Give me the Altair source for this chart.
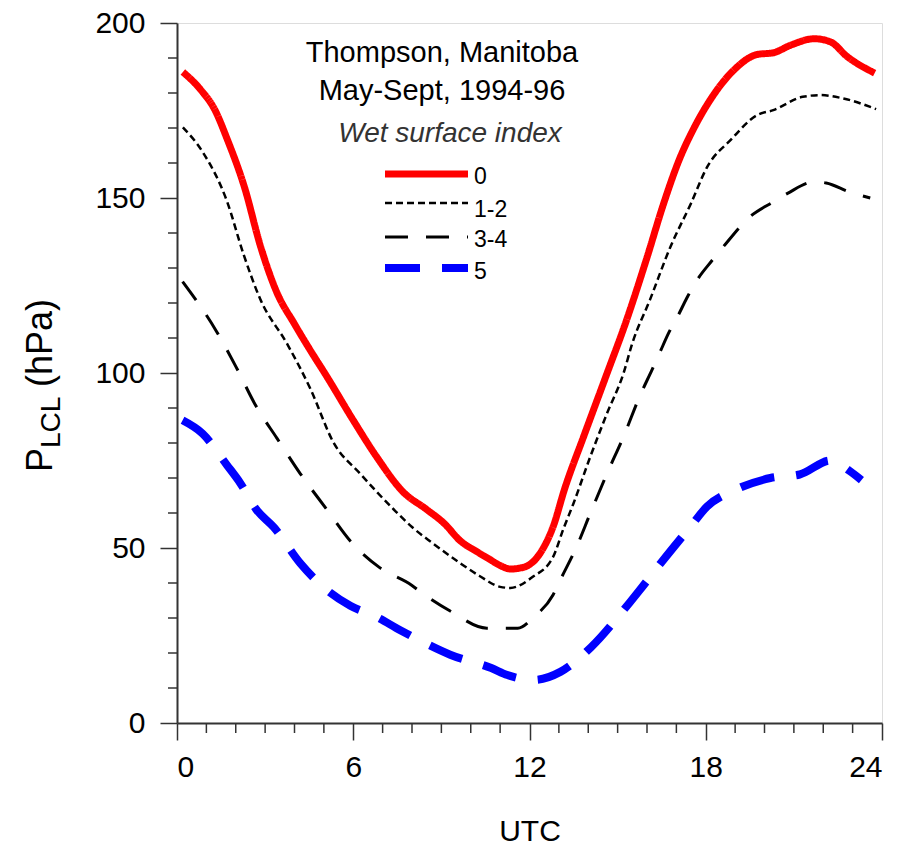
import altair as alt
import pandas as pd

# ---- data ----
h_0 = [0.2, 0.8, 1.3, 1.7, 2.3, 2.85, 3.4, 4.0, 4.5, 5.1, 6.0, 6.8, 7.7, 8.5, 9.1, 9.65,
       10.2, 10.6, 11.0, 11.35, 11.8, 12.4, 12.8, 13.2, 13.85, 14.6, 15.3, 16.0, 16.55,
       17.1, 17.6, 18.15, 18.95, 19.75, 20.3, 20.9, 21.7, 22.25, 22.8, 23.75]
p_0 = [186, 181, 175, 167, 153, 136, 123, 114, 107, 99, 86.5, 76, 66, 61, 57, 52,
       49, 47, 45, 44, 44.5, 49, 56, 67, 82, 99, 115, 133, 148,
       161, 170, 178, 186.5, 191, 191.5, 193.7, 195.5, 194.6, 190.5, 185.7]

h_12 = [0.2, 0.87, 1.7, 2.27, 2.84, 3.75, 4.54, 5.33, 6.24, 7.38, 8.0, 8.7, 9.65, 10.3,
        11.0, 11.35, 12.1, 12.8, 13.16, 13.5, 14.07, 14.64, 15.2, 15.5, 16.1, 16.8, 17.5,
        18.05, 18.85, 19.75, 20.3, 21.3, 21.9, 22.6, 23.8]
p_12 = [170.2, 163.2, 149.1, 133.8, 121, 108.3, 95.5, 80.1, 71.2, 61, 56, 51.4, 45.6, 42,
        38.9, 38.6, 41.7, 47.4, 55.6, 62.8, 76.1, 88.5, 99.9, 108.5, 120.9, 136.1, 148.5,
        158.9, 166.6, 173.7, 175.1, 178.9, 179.4, 178.6, 175.4]

h_34 = [0.19, 1.33, 2.0, 2.7, 3.4, 4.2, 5.1, 5.9, 6.9, 8.0, 8.3, 9.3, 10.55, 11.6, 12.15,
        12.8, 13.05, 13.6, 14.07, 14.64, 15.2, 15.77, 16.17, 16.45, 16.73, 17.07, 17.36,
        17.7, 18.2, 18.6, 19.5, 20.3, 20.8, 21.7, 22.1, 22.9, 23.6]
p_34 = [126.1, 112.1, 101.9, 90.4, 81.4, 71.2, 61, 52, 44.4, 39.3, 37.4, 32, 27.1, 27.1, 30.3,
        36.6, 40.9, 50.3, 59.9, 71.3, 81.8, 93.7, 100.9, 106.1, 111.3, 116.6, 121.5,
        126.5, 132, 136.1, 144.6, 148.9, 151.4, 154.6, 154.3, 151.7, 150]

h_5 = [0.19, 0.87, 1.7, 2.15, 2.7, 3.3, 4.2, 5.1, 5.9, 6.8, 7.6, 8.5, 9.3, 10.7, 11.25,
       12.15, 13.05, 14.1, 15.4, 15.7, 16.5, 17.47, 18.04, 19.0, 20.2, 21.2, 22.25, 22.9, 23.3]
p_5 = [86.5, 82.7, 73.7, 68.6, 61, 55.9, 45.6, 38, 33.5, 30.3, 26.5, 22.6, 19.5, 15.7, 13.7,
       12.3, 14.6, 21.7, 34.3, 37.4, 46, 56, 61.8, 66.6, 70, 71, 75, 72, 69.4]

series_names = ["0", "1-2", "3-4", "5"]
series_colors = ["#ff0000", "#000000", "#000000", "#0000ff"]
series_widths = [7, 2.5, 3, 8]
series_dash = [[1, 0], [7, 4], [23, 18], [35, 22]]

x_major = [0, 6, 12, 18, 24]
x_minor = [h for h in range(1, 24) if h % 6 != 0]
y_major = [0, 50, 100, 150, 200]
y_minor = [v for v in range(10, 200, 10) if v % 50 != 0]

title_lines = ["Thompson, Manitoba", "May-Sept, 1994-96"]
legend_title = "Wet surface index"

W, H = 705, 700
FONT = "Liberation Sans"

x_scale = alt.Scale(domain=[0, 24], nice=False, zero=False)
y_scale = alt.Scale(domain=[0, 200], nice=False, zero=False)
x_axis = alt.Axis(values=x_major, tickSize=17, labelFontSize=30, labelPadding=12,
                  title="UTC", titleFontSize=30, titleFontWeight="normal", titlePadding=34,
                  grid=False, labelFont=FONT, titleFont=FONT, labelColor="black",
                  titleColor="black", domainColor="#333", domainWidth=2,
                  tickColor="#333", tickWidth=1.5, format="d")
y_axis = alt.Axis(values=y_major, tickSize=17, labelFontSize=30, labelPadding=15,
                  title=None, grid=False, labelFont=FONT, labelColor="black",
                  domainColor="#333", domainWidth=2, tickColor="#333", tickWidth=1.5,
                  format="d")

X = alt.X("UTC:Q", scale=x_scale, axis=x_axis)
Y = alt.Y("P:Q", scale=y_scale, axis=y_axis)

hs = [h_0, h_12, h_34, h_5]
ps = [p_0, p_12, p_34, p_5]

layers = []
for name, hh, pp, col, wd, dash in zip(series_names, hs, ps, series_colors, series_widths, series_dash):
    df = pd.DataFrame({"UTC": hh, "P": pp})
    layers.append(
        alt.Chart(df).mark_line(color=col, strokeWidth=wd, strokeDash=dash,
                                interpolate="monotone", strokeCap="butt")
        .encode(x=X, y=Y)
    )

# minor ticks
layers.append(
    alt.Chart(pd.DataFrame({"UTC": x_minor})).mark_rule(color="#333", strokeWidth=1.5)
    .encode(x=X, y=alt.value(H), y2=alt.value(H + 10))
)
layers.append(
    alt.Chart(pd.DataFrame({"P": y_minor})).mark_rule(color="#333", strokeWidth=1.5)
    .encode(y=Y, x=alt.value(-9), x2=alt.value(0))
)

# in-plot title
for txt, yy in zip(title_lines, [39, 77]):
    layers.append(
        alt.Chart(pd.DataFrame({"t": [txt]})).mark_text(font=FONT, fontSize=29, align="center",
                                                        baseline="alphabetic", color="black")
        .encode(text="t:N", x=alt.value(265), y=alt.value(yy))
    )
layers.append(
    alt.Chart(pd.DataFrame({"t": [legend_title]})).mark_text(font=FONT, fontSize=28, fontStyle="italic",
                                                            align="center", baseline="alphabetic", color="#333")
    .encode(text="t:N", x=alt.value(273), y=alt.value(118.5))
)

# legend
leg_y = [151, 180, 214, 245]
lab_y = [154, 187, 217, 249]
for name, col, wd, dash, ly, tly in zip(series_names, series_colors, series_widths, series_dash, leg_y, lab_y):
    layers.append(
        alt.Chart(pd.DataFrame({"n": [name]})).mark_rule(color=col, strokeWidth=wd, strokeDash=dash, strokeCap="butt")
        .encode(x=alt.value(208), x2=alt.value(291), y=alt.value(ly))
    )
    layers.append(
        alt.Chart(pd.DataFrame({"n": [name]})).mark_text(font=FONT, fontSize=23, align="left", baseline="middle", color="black")
        .encode(text="n:N", x=alt.value(297), y=alt.value(tly))
    )

# y-axis title with subscript
yt = [("P", 36, -125, 449), ("LCL", 28, -117, 425), ("(hPa)", 36, -125, 364)]
for txt, fs, xx, yy in yt:
    layers.append(
        alt.Chart(pd.DataFrame({"t": [txt]})).mark_text(font=FONT, fontSize=fs, angle=270, align="left",
                                                        baseline="alphabetic", color="black")
        .encode(text="t:N", x=alt.value(xx), y=alt.value(yy))
    )

chart = alt.layer(*layers).properties(
    width=W, height=H,
    autosize=alt.AutoSizeParams(type="none"),
    padding={"left": 169, "top": 15, "right": 20, "bottom": 120},
).configure_view(stroke="#333", strokeWidth=2).configure(background="white")

chart.save("out.html", embed_options={"renderer": "svg", "actions": False})
